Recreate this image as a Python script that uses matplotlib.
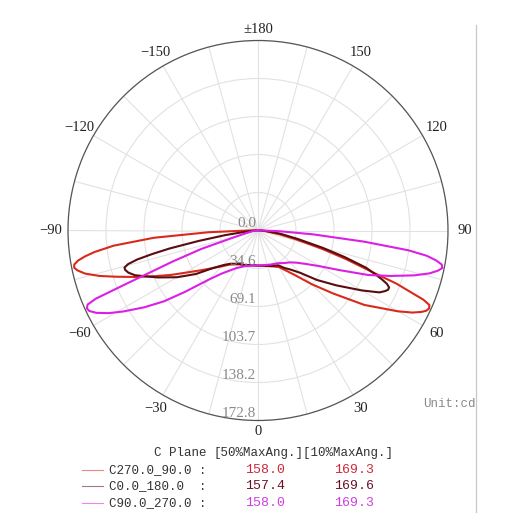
"""
Luminous intensity distribution (polar) for three C planes.
"""

import numpy as np
import matplotlib
matplotlib.use("Agg")
import matplotlib.pyplot as plt
from matplotlib.lines import Line2D
from matplotlib.transforms import offset_copy

W, H = 511, 522

RED = '#d82a1c'
DARK = '#5a0c10'
MAGENTA = '#dc1fe4'
GRID = '#e2e2e2'
GRAY_TEXT = '#8a8a8a'

# ---- data (gamma angle in degrees, intensity in cd) ----
# C270.0_90.0 : left half = C270, right half = C90
red_left_ang = [0, 10, 20, 30, 40, 45, 50, 55, 60, 63, 66, 69, 72, 74, 76, 77.5, 78.5, 79.5,
                80.5, 81.5, 82.5, 84, 86, 88, 90, 95, 110, 180]
red_left_cd = [32, 32, 33.5, 35.5, 40.5, 46, 53, 63, 77, 89, 102, 118, 136, 150, 162, 168, 170.5, 170,
               166, 159, 150, 132, 95, 45, 9, 2, 0.5, 0]
red_right_ang = [0, 10, 20, 30, 35, 40, 45, 50, 55, 60, 62, 63.5, 64.5, 65.5, 66.5, 67.3, 68, 69,
                 70, 72, 74, 77, 80, 85, 90, 110, 180]
red_right_cd = [32, 32.5, 34.5, 38.5, 44.5, 53.5, 69, 89, 118, 147, 159, 166, 169.5, 171, 170, 163, 150, 135,
                111, 84, 61, 35, 20, 7, 3, 0.5, 0]

# C0.0_180.0 : left half = C180, right half = C0
dark_left_ang = [0, 10, 20, 30, 40, 45, 50, 55, 60, 65, 70, 72, 73.5, 74.5, 75.5, 76.5, 77.5, 78.5,
                 80, 82, 85, 90, 110, 180]
dark_left_cd = [32, 32, 33.5, 35, 39.5, 44.5, 53, 69, 85, 101, 119, 124, 126, 126, 122, 113, 98, 82,
                55, 30, 10, 3, 0.5, 0]
dark_right_ang = [0, 10, 20, 30, 35, 40, 45, 50, 55, 60, 63, 64.5, 65.5, 66.5, 67.5, 68.5, 69.5, 71,
                  73, 75, 78, 82, 86, 90, 110, 180]
dark_right_cd = [32, 32.5, 34.5, 36.5, 41.5, 46.5, 54.5, 70, 87, 109, 124, 128, 130, 130, 127, 121, 114, 104,
                 82, 61, 37, 20, 8, 3, 0.5, 0]

# C90.0_270.0 : left half = C270, right half = C90
mag_left_ang = [0, 10, 20, 30, 40, 45, 50, 53, 56, 59, 61, 63, 64.5, 65.5, 66.5, 67.2, 68, 69,
                70, 72, 74, 77, 80, 85, 90, 110, 180]
mag_left_cd = [32, 32.5, 34.5, 39.5, 51, 63, 87, 107, 125, 143, 155, 165, 170, 171, 169, 160, 128, 100,
               83, 54, 24, 12, 7, 4, 3, 0.5, 0]
mag_right_ang = [0, 10, 20, 30, 40, 45, 50, 55, 60, 64, 68, 71, 74, 76, 77.5, 78.5, 79.5, 80.5,
                 81.5, 82.5, 84, 86, 88, 90, 95, 110, 180]
mag_right_cd = [32, 32, 33, 34.5, 38.5, 41, 45.5, 53, 65, 82, 108, 127, 148, 161, 168, 171, 170, 164,
                155, 138, 97, 50, 20, 5, 2, 0.5, 0]

planes = ['C270.0_90.0 :', 'C0.0_180.0  :', 'C90.0_270.0 :']
half50 = ['158.0', '157.4', '158.0']
half10 = ['169.3', '169.6', '169.3']
colors = [RED, DARK, MAGENTA]
value_colors = ['#d0283a', '#6a1024', '#cf3ee0']

R_MAX = 172.8
ring_labels = ['0.0', '34.6', '69.1', '103.7', '138.2', '172.8']
angle_ticks = [0, 30, 60, 90, 120, 150, 180, -150, -120, -90, -60, -30]
angle_labels = ['0', '30', '60', '90', '120', '150', '\u00b1180',
                '\u2212150', '\u2212120', '\u221290', '\u221260', '\u221230']


def full_curve(left_ang, left_cd, right_ang, right_cd):
    ang = -np.array(left_ang[::-1], float)
    cd = np.array(left_cd[::-1], float)
    ang = np.concatenate([ang, np.array(right_ang[1:], float)])
    cd = np.concatenate([cd, np.array(right_cd[1:], float)])
    return np.deg2rad(ang), cd


fig = plt.figure(figsize=(W / 100, H / 100), dpi=100)
fig.patch.set_facecolor('white')

cx, cy, rad = 258, 230.5, 190
ax = fig.add_axes([(cx - rad) / W, 1 - (cy + rad) / H, 2 * rad / W, 2 * rad / H],
                  projection='polar')
ax.set_theta_zero_location('S')
ax.set_theta_direction(1)
ax.set_ylim(0, R_MAX)
ax.set_thetagrids(np.arange(0, 360, 15), labels=[''] * 24)
ax.set_rgrids(np.linspace(0, R_MAX, 6)[1:], labels=[''] * 5)
ax.grid(True, color=GRID, lw=0.8)
ax.spines['polar'].set_color('#555555')
ax.spines['polar'].set_linewidth(0.9)
ax.tick_params(length=0)

curves = [
    full_curve(red_left_ang, red_left_cd, red_right_ang, red_right_cd),
    full_curve(dark_left_ang, dark_left_cd, dark_right_ang, dark_right_cd),
    full_curve(mag_left_ang, mag_left_cd, mag_right_ang, mag_right_cd),
]
for (th, cd), col in zip(curves, colors):
    ax.plot(th, cd, color=col, lw=1.5, zorder=3, solid_joinstyle='round')

# angle labels just outside the rim
for a, lab in zip(angle_ticks, angle_labels):
    s = abs(np.sin(np.deg2rad(a)))
    gap = 11 if s < 0.1 else 13 + 4 * s
    ax.text(np.deg2rad(a), R_MAX * (1 + gap / rad), lab, ha='center', va='center',
            fontsize=10.5, family='Liberation Serif', color='#222222',
            clip_on=False)

# ring labels along 0 direction
tr = offset_copy(ax.transData, fig=fig, x=-1.5, y=0.5, units='points')
for i, lab in enumerate(ring_labels):
    ax.text(0, R_MAX * i / 5, lab, ha='right', va='bottom', transform=tr,
            fontsize=11, family='Liberation Serif', color=GRAY_TEXT, zorder=4)


def px(x, y):
    return x / W, 1 - y / H


fig.text(*px(449, 404), 'Unit:cd', ha='center', va='center', fontsize=9,
         family='Liberation Mono', color=GRAY_TEXT)

# right border line
fig.add_artist(Line2D([476 / W, 476 / W], [1 - 25 / H, 1 - 512 / H],
                      color='#c8c8c8', lw=0.9))

# legend table
fig.text(*px(206, 453), 'C Plane', ha='right', va='center', fontsize=9,
         family='Liberation Mono', color='#333333')
fig.text(*px(213, 453), '[50%MaxAng.][10%MaxAng.]', ha='left', va='center',
         fontsize=9, family='Liberation Mono', color='#333333')
for i, (name, v50, v10, col, vcol) in enumerate(zip(planes, half50, half10,
                                                     colors, value_colors)):
    y = 470 + i * 16.4
    fig.add_artist(Line2D([82 / W, 103 / W], [1 - y / H, 1 - y / H],
                          color=col, lw=0.8, alpha=0.55))
    fig.text(*px(109, y), name, ha='left', va='center', fontsize=9,
             family='Liberation Mono', color='#333333')
    fig.text(*px(265, y), v50, ha='center', va='center', fontsize=9.5,
             family='Liberation Mono', color=vcol)
    fig.text(*px(354, y), v10, ha='center', va='center', fontsize=9.5,
             family='Liberation Mono', color=vcol)

fig.savefig('out.png', dpi=100, facecolor='white')
